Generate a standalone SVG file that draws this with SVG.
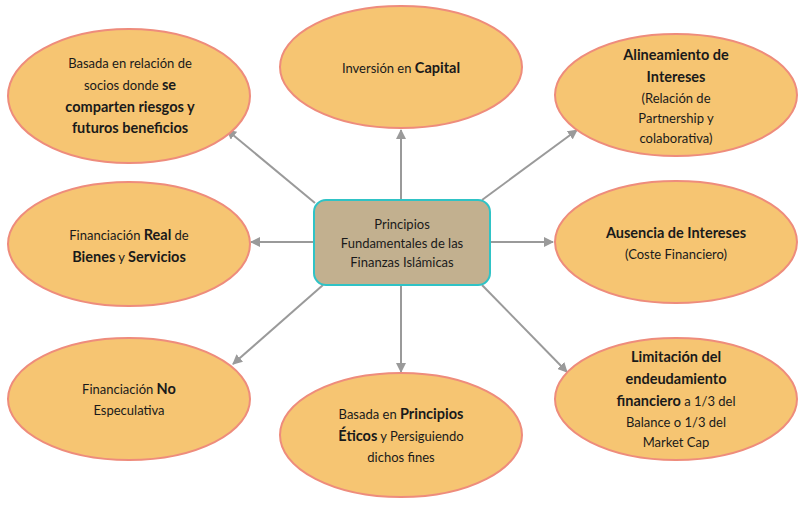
<svg xmlns="http://www.w3.org/2000/svg" width="800" height="512" viewBox="0 0 800 512">
<defs>
<marker id="ah" markerWidth="10" markerHeight="10" refX="9" refY="5" orient="auto" markerUnits="userSpaceOnUse">
<path d="M0,0 L10,5 L0,10 Z" fill="#9a9a9a"/>
</marker>
<style>
.e{fill:#f6c572;stroke:#ee8c7c;stroke-width:2}
.c{stroke:#9a9a9a;stroke-width:2;fill:none;marker-end:url(#ah)}
text{font-family:Lato,"Open Sans","Noto Sans",sans-serif;font-size:13px;fill:#1a1a1a;text-anchor:middle}
.b{font-weight:bold;font-size:14.5px}
</style>
</defs>
<rect width="800" height="512" fill="#ffffff"/>
<g id="connectors">
<line class="c" x1="401" y1="200" x2="401" y2="130"/>
<line class="c" x1="314" y1="242" x2="251" y2="242"/>
<line class="c" x1="490" y1="242" x2="553" y2="242"/>
<line class="c" x1="401" y1="285" x2="401" y2="372"/>
<line class="c" x1="315" y1="203" x2="227" y2="130"/>
<line class="c" x1="482" y1="200" x2="577" y2="130"/>
<line class="c" x1="323" y1="285" x2="233" y2="364"/>
<line class="c" x1="482" y1="285" x2="567" y2="372"/>
</g>
<g id="center">
<rect x="314" y="200" width="176" height="85" rx="12" fill="#c2b08f" stroke="#2fc3c6" stroke-width="2"/>
<text x="402" y="229">Principios</text>
<text x="402" y="248">Fundamentales de las</text>
<text x="402" y="267">Finanzas Islámicas</text>
</g>
<g id="n1">
<ellipse class="e" cx="129" cy="96" rx="121" ry="67"/>
<text x="130" y="68">Basada en relación de</text>
<text x="130" y="90">socios donde <tspan class="b">se</tspan></text>
<text x="130" y="112" class="b">comparten riesgos y</text>
<text x="130" y="133" class="b">futuros beneficios</text>
</g>
<g id="n2">
<ellipse class="e" cx="401" cy="67" rx="121" ry="61"/>
<text x="401" y="73">Inversión en <tspan class="b">Capital</tspan></text>
</g>
<g id="n3">
<ellipse class="e" cx="676" cy="95" rx="121" ry="61"/>
<text x="676" y="60" class="b">Alineamiento de</text>
<text x="676" y="82" class="b">Intereses</text>
<text x="676" y="103">(Relación de</text>
<text x="676" y="123">Partnership y</text>
<text x="676" y="143">colaborativa)</text>
</g>
<g id="n4">
<ellipse class="e" cx="129" cy="244" rx="121" ry="62"/>
<text x="129" y="240">Financiación <tspan class="b">Real</tspan> de</text>
<text x="129" y="262"><tspan class="b">Bienes</tspan> y <tspan class="b">Servicios</tspan></text>
</g>
<g id="n5">
<ellipse class="e" cx="676" cy="242" rx="121" ry="61"/>
<text x="676" y="238" class="b">Ausencia de Intereses</text>
<text x="676" y="259">(Coste Financiero)</text>
</g>
<g id="n6">
<ellipse class="e" cx="129" cy="399" rx="121" ry="61"/>
<text x="129" y="394">Financiación <tspan class="b">No</tspan></text>
<text x="129" y="415">Especulativa</text>
</g>
<g id="n7">
<ellipse class="e" cx="401" cy="435" rx="121" ry="62"/>
<text x="401" y="419">Basada en <tspan class="b">Principios</tspan></text>
<text x="401" y="441"><tspan class="b">Éticos</tspan> y Persiguiendo</text>
<text x="401" y="462">dichos fines</text>
</g>
<g id="n8">
<ellipse class="e" cx="676" cy="399" rx="121" ry="61"/>
<text x="676" y="362" class="b">Limitación del</text>
<text x="676" y="384" class="b">endeudamiento</text>
<text x="676" y="406"><tspan class="b">financiero</tspan> a 1/3 del</text>
<text x="676" y="427">Balance o 1/3 del</text>
<text x="676" y="447">Market Cap</text>
</g>
</svg>
